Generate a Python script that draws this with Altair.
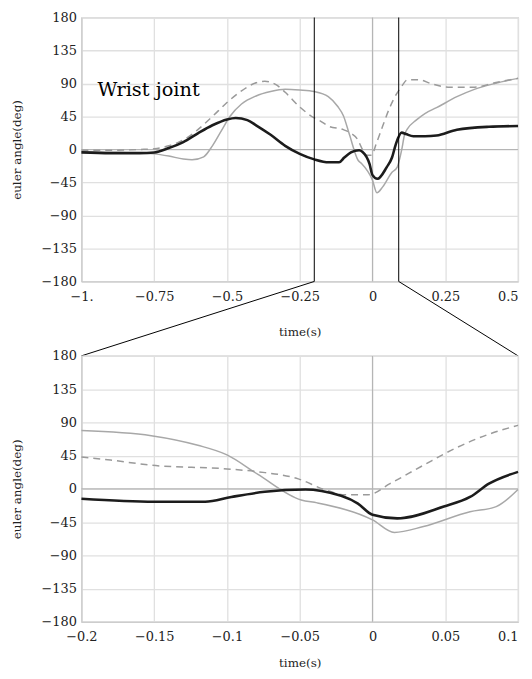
import altair as alt
import pandas as pd

# ---- data ----
black_t = [-1.0, -0.9, -0.8, -0.75, -0.7, -0.65, -0.6, -0.55, -0.5, -0.47, -0.43, -0.4, -0.35, -0.3, -0.25,
           -0.2, -0.15, -0.115, -0.097, -0.074, -0.046, -0.035, -0.01, 0.0, 0.017, 0.049, 0.067, 0.08, 0.1,
           0.115, 0.14, 0.18, 0.22, 0.29, 0.4, 0.5]
black_v = [-4, -5, -5, -4, 2, 10, 22, 33, 41, 43, 40, 33, 20, 5, -6,
           -13.5, -17.5, -17.5, -11, -4, -1, -3, -20, -35, -40, -24, -11, 7, 23,
           21, 18, 18, 19, 27, 31, 32]

gray_t = [-1.0, -0.9, -0.8, -0.75, -0.7, -0.65, -0.62, -0.58, -0.55, -0.52, -0.49, -0.45, -0.4, -0.35, -0.3,
          -0.25, -0.2, -0.152, -0.12, -0.1, -0.079, -0.049, -0.038, 0.0, 0.015, 0.035, 0.067, 0.085, 0.1,
          0.11, 0.12, 0.15, 0.18, 0.22, 0.29, 0.35, 0.42, 0.5]
gray_v = [-3, -4, -5, -6, -9, -13, -14, -10, 5, 25, 45, 62, 73, 79, 82,
          81, 79, 72, 59, 46, 20, -15, -19, -42, -59, -51, -31, -24, -1,
          20, 28, 40, 49, 57, 72, 82, 90, 97]

dash_t = [-1.0, -0.9, -0.8, -0.75, -0.7, -0.65, -0.6, -0.55, -0.5, -0.45, -0.4, -0.37, -0.33, -0.3, -0.25,
          -0.2, -0.18, -0.152, -0.1, -0.078, -0.051, -0.033, -0.019, -0.003, 0.012, 0.035, 0.058, 0.08, 0.1,
          0.12, 0.16, 0.2, 0.26, 0.35, 0.42, 0.5]
dash_v = [-1, -1, 0, 1, 5, 13, 27, 45, 64, 80, 91, 93, 88, 78, 58,
          43, 39, 32, 27, 23, 13.5, -1, -8, -8, 7, 32, 56, 74, 86,
          95, 95, 90, 85, 85, 91, 97]

y_ticks = [-180, -135, -90, -45, 0, 45, 90, 135, 180]
top_x_ticks = [-1.0, -0.75, -0.5, -0.25, 0, 0.25, 0.5]
bot_x_ticks = [-0.2, -0.15, -0.1, -0.05, 0, 0.05, 0.1]

label_text = ["Wrist joint"]
label_pos = [(-0.945, 81)]

zoom_window = [-0.2, 0.09]   # vertical marker lines in the top panel
below_val = -281.5           # y value (top-panel scale) of the lower panel's top edge

rows = []
for name, ts, vs in [("gray", gray_t, gray_v), ("dash", dash_t, dash_v), ("black", black_t, black_v)]:
    for t, v in zip(ts, vs):
        rows.append({"series": name, "t": t, "v": v})
df = pd.DataFrame(rows)

FONT = "DejaVu Serif"


def panel(xmin, xmax, xticks, h, top):
    if top:
        lab = "datum.value == -1 ? '\u22121.' : format(datum.value, '~g')"
    else:
        lab = "format(datum.value, '~g')"
    x_enc = alt.X("t:Q", scale=alt.Scale(domain=[xmin, xmax], nice=False, zero=False),
                  axis=alt.Axis(values=xticks, title="time(s)", labelExpr=lab, grid=True, labelFlush=False,
                                labelAlign={"condition": {"test": f"datum.value == {xmax}", "value": "right"},
                                            "value": "center"},
                                labelPadding=9, titlePadding=(23 if top else 14)))
    y_enc = alt.Y("v:Q", scale=alt.Scale(domain=[-180, 180], nice=False, zero=False),
                  axis=alt.Axis(values=y_ticks, title="euler angle(deg)", labelFlush=False,
                                labelExpr="format(datum.value, '~g')", grid=True))
    base = alt.Chart(df).transform_filter(f"datum.t >= {xmin} && datum.t <= {xmax}")

    zero_h = alt.Chart(pd.DataFrame({"v": [0]})).mark_rule(color="#b5b5b5", strokeWidth=1.2).encode(y=y_enc)
    zero_v = alt.Chart(pd.DataFrame({"t": [0]})).mark_rule(color="#b5b5b5", strokeWidth=1.2).encode(x=x_enc)

    gray = base.transform_filter("datum.series == 'gray'").mark_line(
        color="#a8a8a8", strokeWidth=1.5, interpolate="monotone").encode(x=x_enc, y=y_enc)
    dash = base.transform_filter("datum.series == 'dash'").mark_line(
        color="#9a9a9a", strokeWidth=1.5, strokeDash=[7, 5], interpolate="monotone").encode(x=x_enc, y=y_enc)
    black = base.transform_filter("datum.series == 'black'").mark_line(
        color="#1c1c1c", strokeWidth=2.6, interpolate="monotone").encode(x=x_enc, y=y_enc)

    layers = [zero_h, zero_v, gray, dash, black]
    if top:
        vdf = pd.DataFrame({"t": zoom_window, "v": [-180, -180], "v2": [180, 180]})
        vlines = alt.Chart(vdf).mark_rule(color="black", strokeWidth=1).encode(
            x=x_enc, y=y_enc, y2="v2:Q")
        ddf = pd.DataFrame({"t": zoom_window, "v": [-180, -180], "t2": [-1.0, 0.5], "v2": [below_val, below_val]})
        dlines = alt.Chart(ddf).mark_rule(color="black", strokeWidth=1).encode(
            x=x_enc, y=y_enc, x2="t2:Q", y2="v2:Q")
        tdf = pd.DataFrame({"t": [p[0] for p in label_pos], "v": [p[1] for p in label_pos], "txt": label_text})
        txt = alt.Chart(tdf).mark_text(font=FONT, fontSize=19.5, align="left", baseline="middle",
                                       color="black").encode(x=x_enc, y=y_enc, text="txt:N")
        layers += [vlines, dlines, txt]
    return alt.layer(*layers).properties(width=440, height=h)


top_chart = panel(-1.0, 0.5, top_x_ticks, 266, True)
bot_chart = panel(-0.2, 0.1, bot_x_ticks, 268, False)

chart = alt.vconcat(top_chart, bot_chart, spacing=75, bounds="flush").properties(
    padding={"left": 1, "top": 0, "right": 0, "bottom": 0}
).configure_view(stroke="#c8c8c8", strokeWidth=1.2).configure_axis(
    labelFont=FONT, titleFont=FONT, labelFontSize=13, titleFontSize=12,
    labelColor="#222", titleColor="#222", titleFontWeight="normal",
    gridColor="#e0e0e0", gridWidth=1.3, domainColor="#c8c8c8", tickSize=0,
).configure_axisY(labelPadding=5, titlePadding=18)

chart.save("out.html", embed_options={"renderer": "svg", "actions": False})
